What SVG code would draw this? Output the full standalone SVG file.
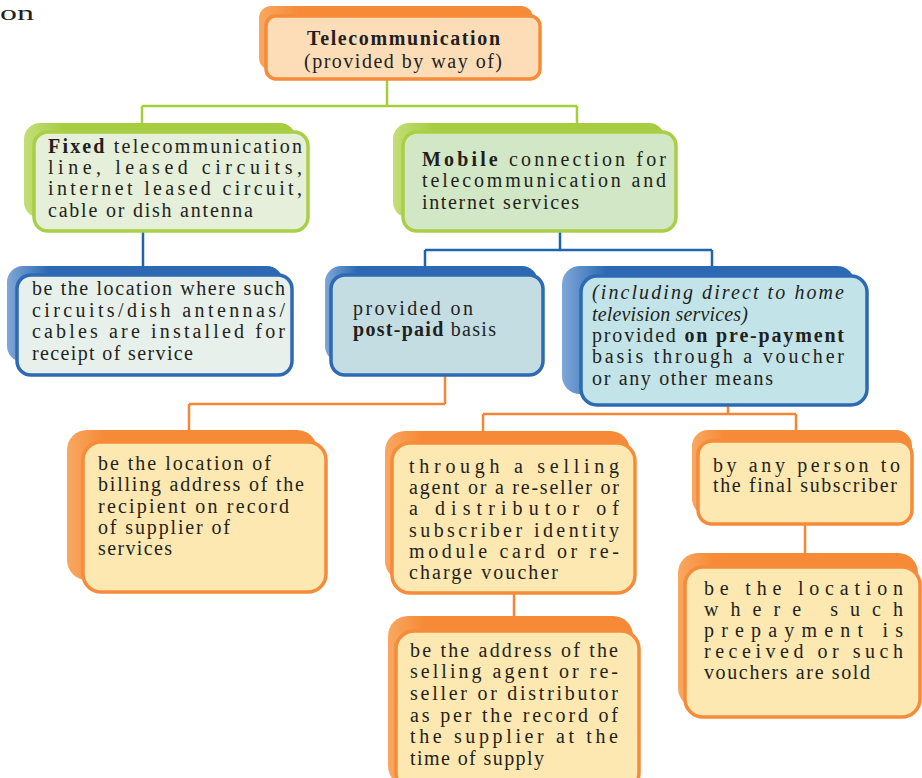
<svg xmlns="http://www.w3.org/2000/svg" width="922" height="778" viewBox="0 0 922 778">
<defs>
<linearGradient id="gO" x1="0" y1="0" x2="1" y2="0"><stop offset="0" stop-color="#F8A862"/><stop offset="0.15" stop-color="#F68A36"/><stop offset="1" stop-color="#F68A36"/></linearGradient>
<linearGradient id="gG" x1="0" y1="0" x2="1" y2="0"><stop offset="0" stop-color="#C3DE78"/><stop offset="0.15" stop-color="#A6CD40"/><stop offset="1" stop-color="#A6CD40"/></linearGradient>
<linearGradient id="gB" x1="0" y1="0" x2="1" y2="0"><stop offset="0" stop-color="#7FA7D8"/><stop offset="0.15" stop-color="#2D69B2"/><stop offset="1" stop-color="#2D69B2"/></linearGradient>
<style>
text{font-family:'Liberation Serif','DejaVu Serif',serif;font-size:20px;fill:#231F20}
.b{font-weight:bold}
.i{font-style:italic}
.bo{fill:url(#gO)}
.bg{fill:url(#gG)}
.bb{fill:url(#gB)}
.fo{stroke:#F68B3A;stroke-width:3.5}
.fg{stroke:#A9CF47;stroke-width:3.5}
.fb{stroke:#2D6AB3;stroke-width:3.5}
.cg{stroke:#A6CE39;stroke-width:2.5;fill:none}
.cb{stroke:#1F64AE;stroke-width:2.5;fill:none}
.co{stroke:#F58634;stroke-width:2.5;fill:none}
</style>
</defs>
<text x="0" y="20" style="font-size:22px" textLength="34" lengthAdjust="spacingAndGlyphs">on</text>
<g id="connectors">
<path class="cg" d="M387 79V106M142 106H577M142 106V123M577 106V123"/>
<path class="cb" d="M143 231V275M560 231V250M425 250H712M425 250V275M712 250V276"/>
<path class="co" d="M445 375V404M189 404H445M189 404V442M728 405V414M483 414H796M483 414V443M796 414V441M514 593V631M805 524V567"/>
</g>
<g id="n-telecom">
<rect class="bo" x="259" y="6" width="274" height="64" rx="12"/>
<rect class="fo" x="266" y="16" width="274" height="63" rx="10" fill="#FDDDB8"/>
<text class="b" x="307" y="45" textLength="193" lengthAdjust="spacing">Telecommunication</text>
<text x="304" y="68" textLength="198" lengthAdjust="spacing">(provided by way of)</text>
</g>
<g id="n-fixed">
<rect class="bg" x="24" y="123" width="272" height="95" rx="16"/>
<rect class="fg" x="34" y="132" width="274" height="99" rx="14" fill="#E5EFD9"/>
<text x="48" y="153" textLength="254" lengthAdjust="spacing"><tspan class="b">Fixed</tspan> telecommunication</text>
<text x="48" y="174" textLength="254" lengthAdjust="spacing">line, leased circuits,</text>
<text x="48" y="195" textLength="254" lengthAdjust="spacing">internet leased circuit,</text>
<text x="48" y="217" textLength="205" lengthAdjust="spacing">cable or dish antenna</text>
</g>
<g id="n-mobile">
<rect class="bg" x="393" y="123" width="272" height="95" rx="16"/>
<rect class="fg" x="403" y="132" width="273" height="99" rx="14" fill="#D1E7C6"/>
<text x="422" y="166" textLength="244" lengthAdjust="spacing"><tspan class="b">Mobile</tspan> connection for</text>
<text x="422" y="187" textLength="244" lengthAdjust="spacing">telecommunication and</text>
<text x="422" y="209" textLength="157" lengthAdjust="spacing">internet services</text>
</g>
<g id="n-fixed-loc">
<rect class="bb" x="7" y="266" width="276" height="96" rx="16"/>
<rect class="fb" x="17" y="275" width="275" height="100" rx="14" fill="#E7F0EA"/>
<text x="32" y="295" textLength="253" lengthAdjust="spacing">be the location where such</text>
<text x="32" y="317" textLength="253" lengthAdjust="spacing">circuits/dish antennas/</text>
<text x="32" y="338" textLength="253" lengthAdjust="spacing">cables are installed for</text>
<text x="32" y="360" textLength="161" lengthAdjust="spacing">receipt of service</text>
</g>
<g id="n-postpaid">
<rect class="bb" x="325" y="266" width="213" height="96" rx="16"/>
<rect class="fb" x="331" y="275" width="212" height="100" rx="14" fill="#C3DDE3"/>
<text x="353" y="315" textLength="120" lengthAdjust="spacing">provided on</text>
<text x="353" y="336" textLength="143" lengthAdjust="spacing"><tspan class="b">post-paid</tspan> basis</text>
</g>
<g id="n-prepaid">
<rect class="bb" x="562" y="266" width="293" height="128" rx="18"/>
<rect class="fb" x="581" y="276" width="286" height="129" rx="16" fill="#C2E4E9"/>
<text class="i" x="592" y="299" textLength="252" lengthAdjust="spacing">(including direct to home</text>
<text class="i" x="592" y="321" textLength="156" lengthAdjust="spacing">television services)</text>
<text x="592" y="342" textLength="252" lengthAdjust="spacing">provided <tspan class="b">on pre-payment</tspan></text>
<text x="592" y="363" textLength="252" lengthAdjust="spacing">basis through a voucher</text>
<text x="592" y="385" textLength="181" lengthAdjust="spacing">or any other means</text>
</g>
<g id="n-billing">
<rect class="bo" x="67" y="430" width="250" height="150" rx="20"/>
<rect class="fo" x="83" y="442" width="243" height="150" rx="18" fill="#FDE8B1"/>
<text x="98" y="470" textLength="173" lengthAdjust="spacing">be the location of</text>
<text x="98" y="491" textLength="206" lengthAdjust="spacing">billing address of the</text>
<text x="98" y="513" textLength="191" lengthAdjust="spacing">recipient on record</text>
<text x="98" y="534" textLength="132" lengthAdjust="spacing">of supplier of</text>
<text x="98" y="555" textLength="74" lengthAdjust="spacing">services</text>
</g>
<g id="n-selling">
<rect class="bo" x="385" y="431" width="245" height="150" rx="20"/>
<rect class="fo" x="392" y="443" width="243" height="150" rx="18" fill="#FDE8B1"/>
<text x="409" y="473" textLength="210" lengthAdjust="spacing">through a selling</text>
<text x="409" y="494" textLength="210" lengthAdjust="spacing">agent or a re-seller or</text>
<text x="409" y="515" textLength="210" lengthAdjust="spacing">a distributor of</text>
<text x="409" y="537" textLength="210" lengthAdjust="spacing">subscriber identity</text>
<text x="409" y="558" textLength="210" lengthAdjust="spacing">module card or re-</text>
<text x="409" y="579" textLength="149" lengthAdjust="spacing">charge voucher</text>
</g>
<g id="n-anyperson">
<rect class="bo" x="692" y="430" width="220" height="85" rx="16"/>
<rect class="fo" x="698" y="441" width="214" height="83" rx="14" fill="#FDE8B1"/>
<text x="713" y="472" textLength="187" lengthAdjust="spacing">by any person to</text>
<text x="713" y="492" textLength="184" lengthAdjust="spacing">the final subscriber</text>
</g>
<g id="n-prepay-loc">
<rect class="bo" x="678" y="553" width="240" height="155" rx="20"/>
<rect class="fo" x="685" y="567" width="235" height="150" rx="18" fill="#FDE8B1"/>
<text x="704" y="595" textLength="199" lengthAdjust="spacing">be the location</text>
<text x="704" y="616" textLength="199" lengthAdjust="spacing">where such</text>
<text x="704" y="637" textLength="199" lengthAdjust="spacing">prepayment is</text>
<text x="704" y="658" textLength="199" lengthAdjust="spacing">received or such</text>
<text x="704" y="679" textLength="166" lengthAdjust="spacing">vouchers are sold</text>
</g>
<g id="n-agent-addr">
<rect class="bo" x="388" y="616" width="245" height="170" rx="20"/>
<rect class="fo" x="396" y="631" width="243" height="160" rx="18" fill="#FDE8B1"/>
<text x="410" y="657" textLength="208" lengthAdjust="spacing">be the address of the</text>
<text x="410" y="678" textLength="208" lengthAdjust="spacing">selling agent or re-</text>
<text x="410" y="700" textLength="208" lengthAdjust="spacing">seller or distributor</text>
<text x="410" y="722" textLength="208" lengthAdjust="spacing">as per the record of</text>
<text x="410" y="743" textLength="208" lengthAdjust="spacing">the supplier at the</text>
<text x="410" y="765" textLength="134" lengthAdjust="spacing">time of supply</text>
</g>
</svg>
